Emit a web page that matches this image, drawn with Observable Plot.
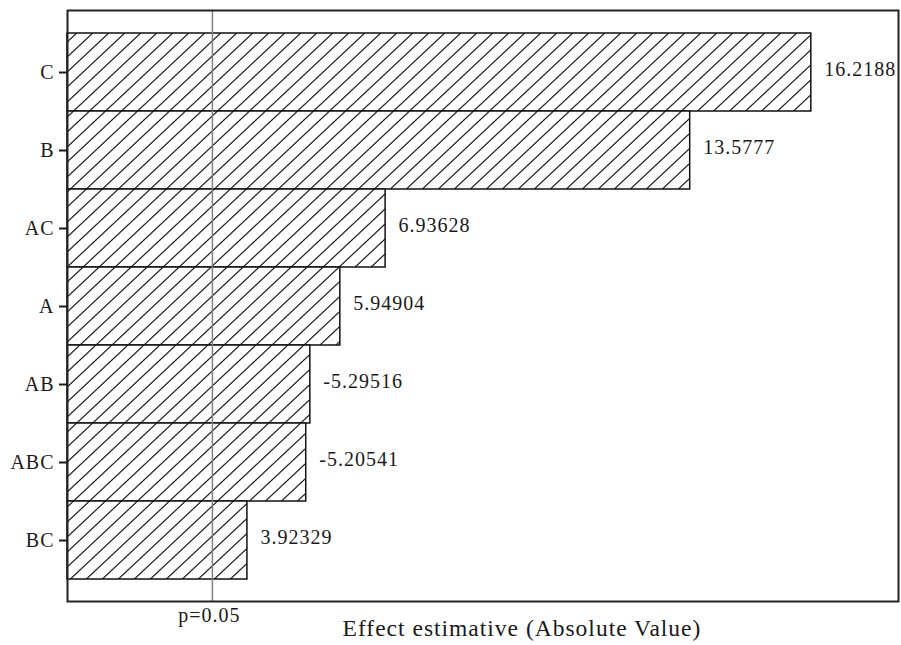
<!DOCTYPE html>
<html>
<head>
<meta charset="utf-8">
<script src="https://cdn.jsdelivr.net/npm/d3@7"></script>
<script src="https://cdn.jsdelivr.net/npm/@observablehq/plot@0.6"></script>
<style>
  html, body { margin: 0; padding: 0; background: #fff; }
  #chart { width: 901px; height: 645px; }
</style>
</head>
<body>
<div id="chart"></div>
<script>
// Pareto chart of standardized effects
const terms = ["C", "B", "AC", "A", "AB", "ABC", "BC"];
const effects = [16.2188, 13.5777, 6.93628, 5.94904, -5.29516, -5.20541, 3.92329];
const pLimit = 3.16;            // critical value for p = 0.05
const pLabel = "p=0.05";
const xTitle = "Effect estimative (Absolute Value)";
const xMax = 18.12;

const rows = terms.map((term, i) => ({term, effect: effects[i], size: Math.abs(effects[i])}));

const ink = "#1a1a1a";

const chart = Plot.plot({
  width: 901,
  height: 645,
  marginLeft: 67,
  marginRight: 3,
  marginTop: 10,
  marginBottom: 44,
  style: {
    fontFamily: "'Liberation Serif', 'Times New Roman', serif",
    fontSize: "20px",
    letterSpacing: "1px",
    color: ink,
    background: "#fff"
  },
  x: {domain: [0, xMax], axis: null},
  y: {
    domain: terms,
    paddingInner: 0,
    paddingOuter: 0.254,
    label: null,
    tickSize: 8,
    tickPadding: 5
  },
  marks: [
    Plot.barX(rows, {
      x: "size",
      y: "term",
      fill: "url(#hatch)",
      stroke: "#111",
      strokeWidth: 1.5
    }),
    Plot.ruleX([pLimit], {stroke: "#808080", strokeWidth: 1.5}),
    Plot.text(rows, {
      x: "size",
      y: "term",
      text: d => String(d.effect),
      textAnchor: "start",
      dx: 13,
      dy: -3,
      fontSize: 20,
      fill: ink
    }),
    Plot.text([pLabel], {
      x: () => pLimit,
      frameAnchor: "bottom",
      dy: 20,
      dx: -3,
      fontSize: 20,
      fill: ink
    }),
    Plot.text([xTitle], {
      frameAnchor: "bottom",
      dx: 39,
      dy: 34,
      fontSize: 23.5,
      fill: ink
    }),
    Plot.frame({stroke: "#222", strokeWidth: 2})
  ]
});

// diagonal hatch used as the bar fill
d3.select(chart).insert("defs", ":first-child").html(`
  <pattern id="hatch" patternUnits="userSpaceOnUse" width="16" height="15">
    <rect width="16" height="15" fill="#fff"></rect>
    <path d="M0,15 L16,0 M-8,7.5 L8,-7.5 M8,22.5 L24,7.5" stroke="#111" stroke-width="1.2" fill="none"></path>
  </pattern>`);

// y tick marks drawn heavier
d3.select(chart).selectAll("[aria-label='y-axis'] path, [aria-label='y-axis tick'] path, g[aria-label='y-axis'] line")
  .attr("stroke-width", 2);

document.getElementById("chart").appendChild(chart);
</script>
</body>
</html>
